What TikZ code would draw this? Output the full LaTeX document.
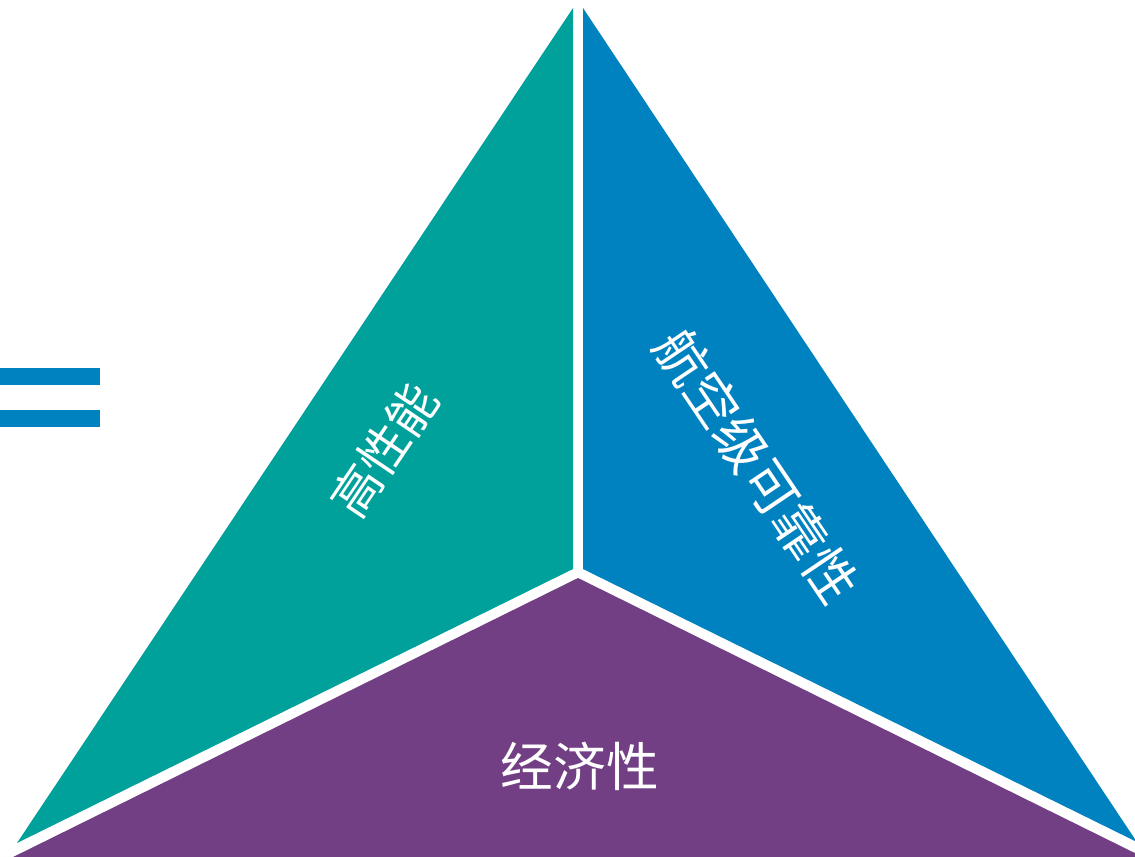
\documentclass[tikz,border=0pt]{standalone}
\usepackage{fontspec}
\newfontfamily\cjk{Noto Sans CJK SC}
\definecolor{tealc}{RGB}{0,161,155}
\definecolor{bluec}{RGB}{0,130,192}
\definecolor{purplec}{RGB}{114,62,132}
\tikzset{
  lbl/.style={text=white, font=\cjk\fontsize{28}{31}\selectfont, inner sep=0pt},
  eqbar/.style={fill=bluec, draw=none}
}
\begin{document}
\begin{tikzpicture}[x=0.02cm, y=-0.02cm]
\useasboundingbox (0,0) rectangle (1135,856);
\fill[white] (0,0) rectangle (1135,856);
\begin{scope}
\clip (0,0) rectangle (1135,856);
% teal left part
\fill[tealc] (573,8) -- (573,569) -- (17,843) -- cycle;
% blue right part
\fill[bluec] (583,8) -- (583,569) -- (1137,842) -- (1135.5,840) -- cycle;
% purple bottom part
\fill[purplec] (578,578) -- (5,861) -- (1151,861) -- cycle;
\end{scope}
% equals sign
\fill[eqbar] (0,368) rectangle (100,385);
\fill[eqbar] (0,410) rectangle (100,427);
% labels
\node[lbl, rotate=56] (perf) at (384,450) {高性能};
\node[lbl, rotate=-56, font=\cjk\fontsize{30}{33}\selectfont] (rel) at (757,466) {航空级可靠性};
\node[lbl, font=\cjk\fontsize{30}{33}\selectfont] (eco) at (580,766) {经济性};
\end{tikzpicture}
\end{document}
